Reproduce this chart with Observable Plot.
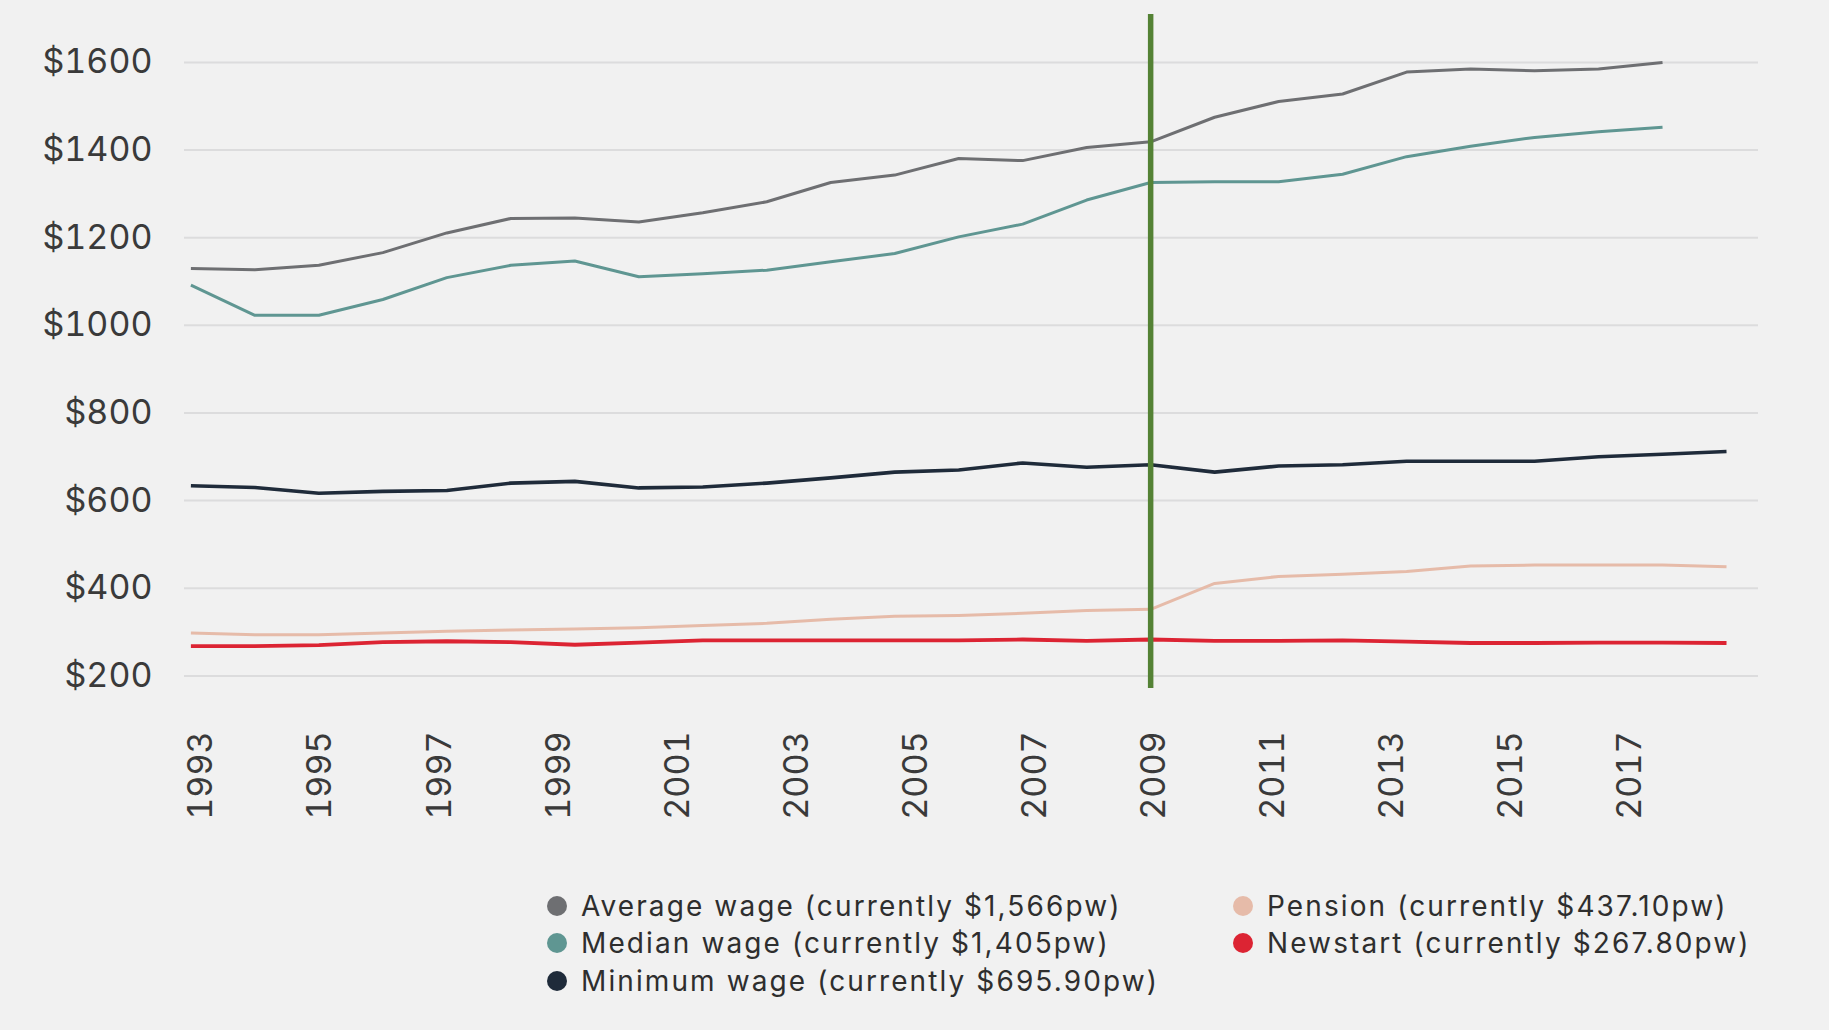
<!DOCTYPE html>
<html>
<head>
<meta charset="utf-8">
<script src="https://cdn.jsdelivr.net/npm/d3@7"></script>
<script src="https://cdn.jsdelivr.net/npm/@observablehq/plot@0.6"></script>
<style>
  html, body { margin: 0; padding: 0; background: #f1f1f1; }
  #wrap { position: relative; width: 1829px; height: 1030px; background: #f1f1f1; overflow: hidden; font-family: Inter, "Open Sans", sans-serif; }
  #plotA, #plotB { position: absolute; left: 0; top: 0; }
  #plotB { pointer-events: none; }
  #legend { position: absolute; left: 547px; top: 887px; display: grid; grid-template-columns: 686px auto; grid-auto-rows: 37.5px; font-size: 28px; letter-spacing: 2.1px; color: #2e2e2e; }
  .item { display: flex; align-items: center; gap: 14px; white-space: nowrap; }
  .dot { width: 20px; height: 20px; border-radius: 50%; flex: none; }
</style>
</head>
<body>
<div id="wrap">
  <div id="plotA"></div>
  <div id="plotB"></div>
  <div id="legend"></div>
</div>
<script>
// ---- data ----
const years = [1994, 1995, 1996, 1997, 1998, 1999, 2000, 2001, 2002, 2003, 2004, 2005, 2006,
               2007, 2008, 2009, 2010, 2011, 2012, 2013, 2014, 2015, 2016, 2017, 2018];
const averageWage = [1130, 1127, 1137, 1166, 1211, 1244, 1245, 1236, 1257, 1282, 1326, 1343, 1381,
                     1376, 1406, 1419, 1475, 1511, 1528, 1578, 1585, 1581, 1585, 1600];
const medianWage = [1092, 1023, 1023, 1059, 1109, 1137, 1147, 1111, 1118, 1126, 1145, 1164, 1202,
                    1231, 1286, 1326, 1328, 1328, 1345, 1385, 1409, 1429, 1442, 1452];
const minimumWage = [634, 630, 617, 621, 623, 640, 644, 629, 631, 640, 652, 665, 670,
                     686, 676, 682, 665, 679, 682, 690, 690, 690, 700, 706, 712];
const pension = [298, 294, 294, 298, 302, 305, 307, 310, 315, 320, 329, 336, 338,
                 343, 349, 352, 411, 427, 432, 438, 451, 453, 453, 453, 449];
const newstart = [268, 268, 270, 277, 279, 277, 271, 276, 281, 281, 281, 281, 281,
                  283, 280, 283, 280, 280, 281, 278, 275, 275, 276, 276, 275];
const markerYear = [2009];
const xTickLabels = [1993, 1995, 1997, 1999, 2001, 2003, 2005, 2007, 2009, 2011, 2013, 2015, 2017];
const yTickValues = [200, 400, 600, 800, 1000, 1200, 1400, 1600];

const seriesNames = [
  "Average wage (currently $1,566pw)",
  "Median wage (currently $1,405pw)",
  "Minimum wage (currently $695.90pw)",
  "Pension (currently $437.10pw)",
  "Newstart (currently $267.80pw)"
];
const seriesColors = ["#6e6f72", "#5f9692", "#1f2b3a", "#e6bba9", "#dc2433"];
const seriesWidths = [3, 3, 3.6, 3, 3.8];
const seriesValues = [averageWage, medianWage, minimumWage, pension, newstart];
const legendOrder = [0, 3, 1, 4, 2];

// ---- build table ----
const rows = [];
seriesValues.forEach((vals, s) => vals.forEach((v, i) => rows.push({series: seriesNames[s], year: years[i], value: v})));

const FONT = "Inter, 'Open Sans', sans-serif";

const lineMarks = seriesNames.map((name, s) =>
  Plot.line(rows.filter(r => r.series === name), {
    x: "year", y: "value", stroke: seriesColors[s], strokeWidth: seriesWidths[s],
    strokeLinejoin: "round", strokeLinecap: "butt"
  })
);

const plotA = Plot.plot({
  width: 1829, height: 700,
  marginLeft: 184, marginRight: 71, marginTop: 14, marginBottom: 12,
  style: {background: "transparent", fontFamily: FONT, overflow: "visible"},
  x: {domain: [1993.9, 2018.5], axis: null},
  y: {domain: [171.2, 1709.5]},
  marks: [
    Plot.gridY(yTickValues, {stroke: "#dcdcdd", strokeOpacity: 1, strokeWidth: 2}),
    Plot.axisY(yTickValues, {tickSize: 0, tickPadding: 32, tickFormat: d => "$" + d,
      fontSize: 34, fill: "#3a3a3a", label: null}),
    ...lineMarks,
    Plot.ruleX(markerYear, {stroke: "#548235", strokeWidth: 5.5})
  ]
});
document.getElementById("plotA").appendChild(plotA);

const plotB = Plot.plot({
  width: 1829, height: 850,
  marginLeft: 201, marginRight: 199, marginTop: 600, marginBottom: 150,
  style: {background: "transparent", fontFamily: FONT, overflow: "visible"},
  x: {domain: [1993, 2017]},
  marks: [
    Plot.axisX(xTickLabels, {tickSize: 0, tickPadding: 31, tickRotate: -90,
      tickFormat: d => String(d), fontSize: 34, fill: "#3a3a3a", label: null})
  ]
});
document.getElementById("plotB").appendChild(plotB);

// ---- legend ----
const legend = document.getElementById("legend");
legendOrder.forEach(s => {
  const item = document.createElement("div");
  item.className = "item";
  const dot = document.createElement("span");
  dot.className = "dot";
  dot.style.background = seriesColors[s];
  const label = document.createElement("span");
  label.textContent = seriesNames[s];
  item.appendChild(dot);
  item.appendChild(label);
  legend.appendChild(item);
});
</script>
</body>
</html>
